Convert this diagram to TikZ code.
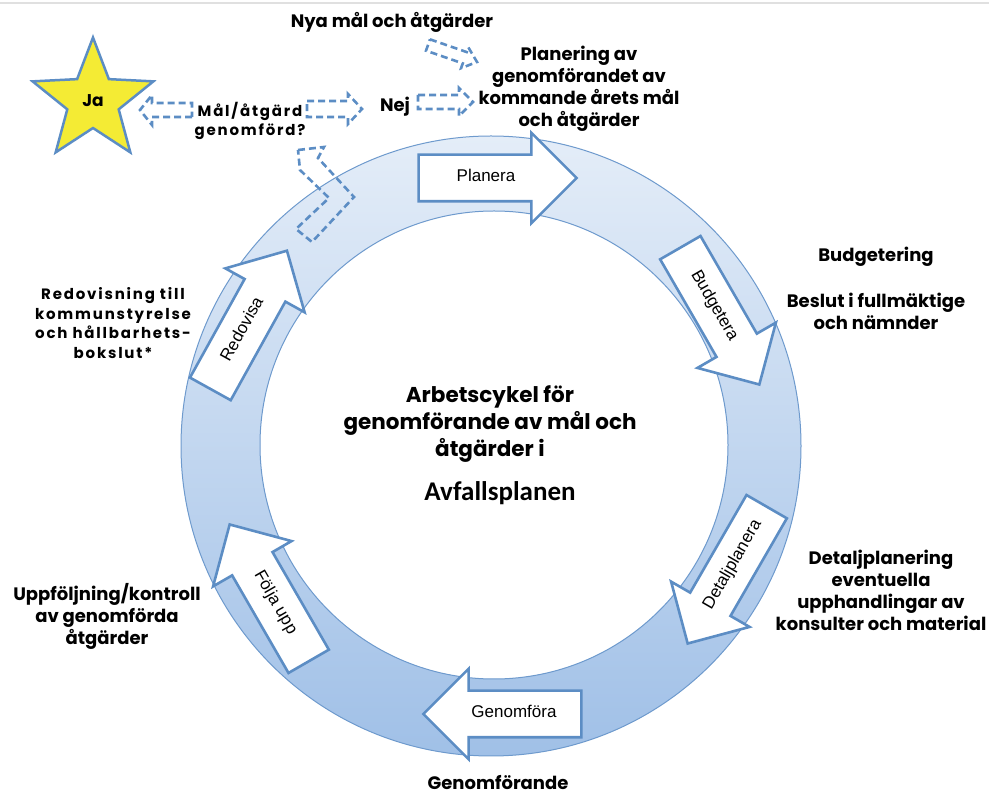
\documentclass[tikz,border=0pt]{standalone}
\usepackage{fontspec}
\setmainfont{Poppins}
\setsansfont{Liberation Sans}
\newfontfamily\calib{Carlito}
\newfontfamily\tungfont{Poppins}[LetterSpace=12]
\usetikzlibrary{shapes.geometric,shapes.arrows,calc,positioning}

\definecolor{ringkant}{RGB}{110,154,205}
\definecolor{pilblue}{RGB}{92,141,196}
\definecolor{ringtop}{RGB}{228,237,248}
\definecolor{ringbot}{RGB}{160,192,231}
\definecolor{stjarna}{RGB}{244,235,52}

\tikzset{
  fas/.style={single arrow, draw=pilblue, line width=2.6pt, fill=white,
    single arrow head extend=22pt, single arrow tip angle=90,
    minimum height=158pt, inner xsep=4pt, inner ysep=14pt,
    text height=12pt, text depth=4pt, font=\sffamily\fontsize{17}{17}\selectfont},
  hollow/.style={draw=pilblue, line width=2.6pt, dash pattern=on 7pt off 4pt,
    line join=miter},
  rubrik/.style={font=\bfseries\fontsize{18}{22}\selectfont, align=center, inner sep=0pt},
  tung/.style={font=\tungfont\bfseries\fontsize{15}{19.5}\selectfont, align=center, inner sep=0pt},
  mitt/.style={font=\bfseries\fontsize{21.5}{27}\selectfont, align=center, inner sep=0pt}
}

% hollow dashed block arrow: from, to, body half, head half, head length
\newcommand\hollowpil[5]{%
  \coordinate (hb) at ($(#2)!#5!(#1)$);
  \draw[hollow] ($(#1)!#3!90:(#2)$) -- ($(hb)!#3!-90:(#1)$) -- ($(hb)!#4!-90:(#1)$)
    -- (#2) -- ($(hb)!#4!90:(#1)$) -- ($(hb)!#3!90:(#1)$) -- ($(#1)!#3!-90:(#2)$) -- cycle;
}

\begin{document}
\begin{tikzpicture}[x=1pt,y=1pt]
\useasboundingbox (0,0) rectangle (989,796);
\draw[black!12, line width=1.5pt] (0,793) -- (989,793);

% ring
\coordinate (c) at (491,350);
\coordinate (ci) at (494,351);
\shade[top color=ringtop, bottom color=ringbot, even odd rule]
  (c) circle (310pt) (ci) circle (234pt);
\draw[ringkant, line width=1pt] (c) circle (310pt);
\draw[ringkant, line width=1pt] (ci) circle (234pt);

% steps on the ring
\node[fas] (planera) at (486,618) {Planera};
\node[fas, rotate=-60] (budget) at (714,490) {Budgetera};
\node[fas, rotate=60, shape border rotate=180] (detalj) at (733,231) {Detaljplanera};
\node[fas, shape border rotate=180] (genom) at (514,82) {Genomföra};
\node[fas, rotate=-60, shape border rotate=180] (folja) at (275,193) {Följa upp};
\node[fas, rotate=61] (redo) at (243,466) {Redovisa};

% star
\node[star, star points=5, star point ratio=2.35, minimum size=127pt, inner sep=0pt,
  fill=stjarna, draw=pilblue, line width=2.5pt,
  font=\bfseries\fontsize{17}{17}\selectfont] (ja) at (93,695) {Ja};

% texts
\node[rubrik] (nya) at (392,774) {Nya mål och åtgärder};
\node[rubrik] (plan) at (579,707) {Planering av\\genomförandet av\\kommande årets mål\\och åtgärder};
\node[rubrik] (nej) at (395,689) {Nej};
\node[tung] (q) at (250,675) {Mål/åtgärd\\genomförd?};
\node[rubrik] (budg) at (876,539) {Budgetering};
\node[rubrik] (beslut) at (876,485) {Beslut i fullmäktige\\och nämnder};
\node[rubrik] (detplan) at (881,206) {Detaljplanering\\eventuella\\upphandlingar av\\konsulter och material};
\node[rubrik] (genomf) at (498,13) {Genomförande};
\node[rubrik] (uppf) at (107,180) {Uppföljning/kontroll\\av genomförda\\åtgärder};
\node[tung] (redov) at (113,473) {Redovisning till\\kommunstyrelse\\och hållbarhets-\\bokslut*};
\node[mitt] (cykel) at (490,372) {Arbetscykel för\\genomförande av mål och\\åtgärder i};
\node[font=\calib\bfseries\fontsize{27}{27}\selectfont, inner sep=0pt] (avfall) at (500,303) {Avfallsplanen};

% dashed arrows
\coordinate (qv) at (192,686);
\coordinate (jah) at (140,686);
\coordinate (qh) at (307,687);
\coordinate (nejv) at (362,687);
\coordinate (nejh) at (418,694);
\coordinate (planv) at (473,694);
\coordinate (nyas) at (428,751);
\coordinate (plano) at (477,734);
\hollowpil{qv}{jah}{7pt}{15pt}{12pt}
\hollowpil{qh}{nejv}{8pt}{15pt}{14pt}
\hollowpil{nejh}{planv}{7pt}{14pt}{14pt}
\hollowpil{nyas}{plano}{6pt}{11pt}{13pt}

% bent arrow from the ring up to the question
\draw[hollow] (298,646) -- (324,649) -- (318,638) -- (354,599) -- (312,554)
  -- (296,567) -- (329,598) -- (300,626) -- cycle;
\end{tikzpicture}
\end{document}
